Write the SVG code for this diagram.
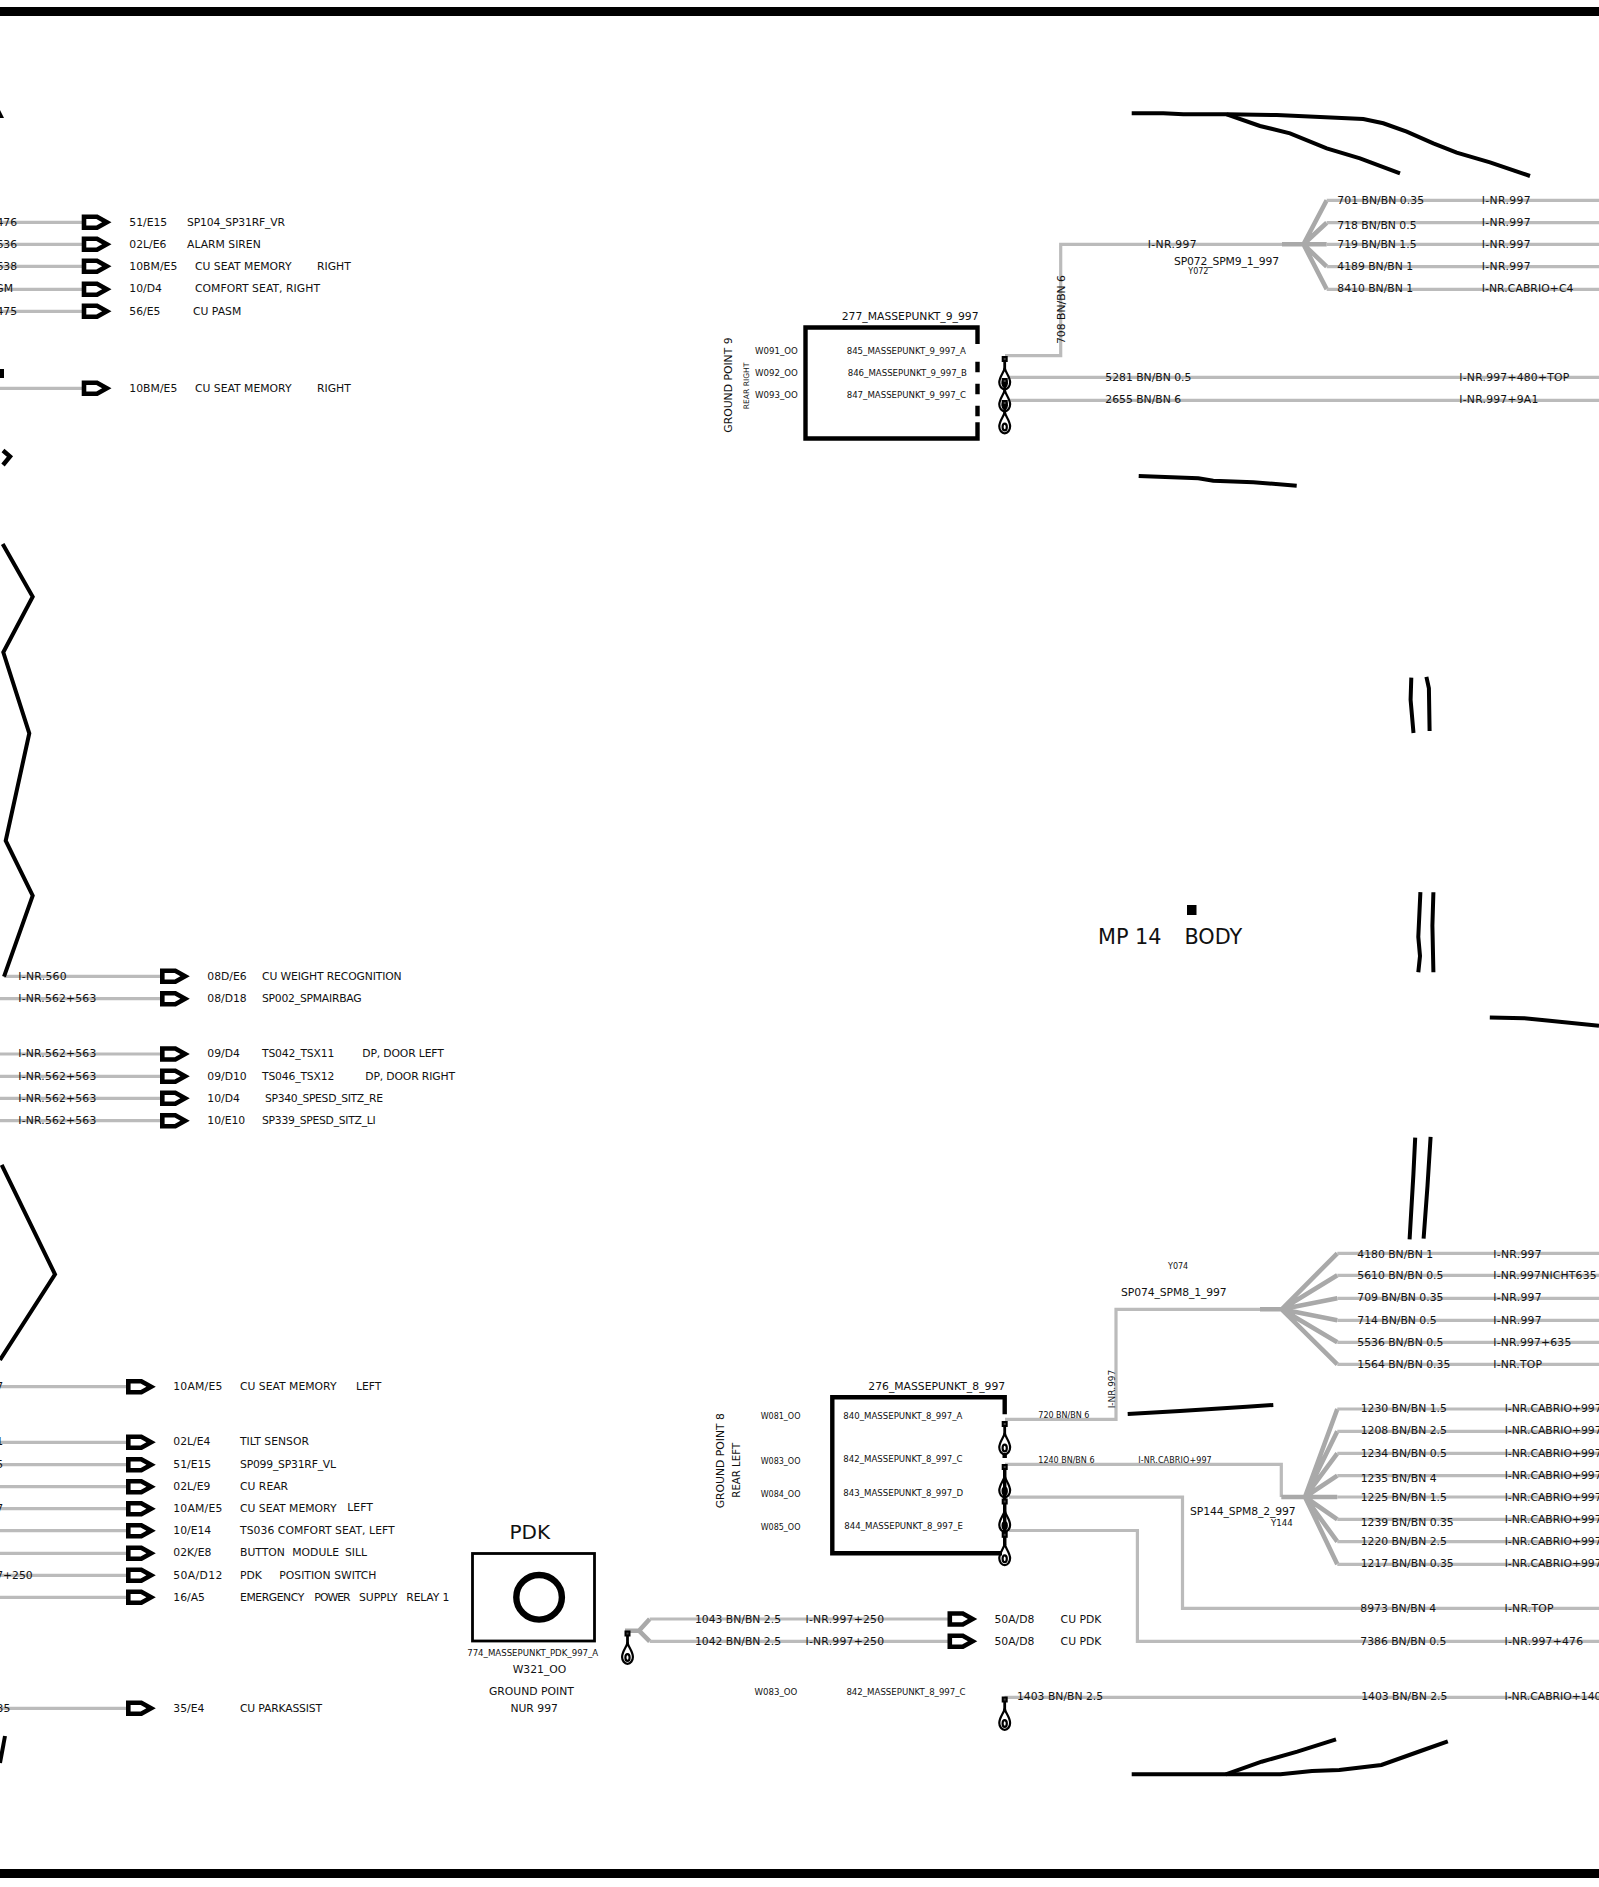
<svg xmlns="http://www.w3.org/2000/svg" width="1599" height="1887" viewBox="0 0 1599 1887">
<style>
text{font-family:"DejaVu Sans","Liberation Sans",sans-serif;fill:#111;font-size:10.8px}
.s{font-size:8.6px}
.xs{font-size:8px}
.w{fill:none;stroke:#bbb;stroke-width:3.2}
.f{fill:none;stroke:#a9a9a9;stroke-width:4.6}
.k{fill:none;stroke:#000;stroke-width:4}
.b{fill:none;stroke:#000;stroke-width:4.4}
</style>
<defs>
<path id="arrow" d="M2,-5.5H15L24.8,0L15,5.5H2Z" fill="#fff" stroke="#000" stroke-width="4.6"/>
<g id="eyelet" fill="none" stroke="#000">
<rect x="-2" y="-2" width="4" height="4" stroke-width="2" fill="#444"/>
<path d="M0,2V11" stroke-width="2.8"/>
<path d="M0,9C-1,14 -5.4,18 -5.4,23.5A5.4,6.8 0 0 0 5.4,23.5C5.4,18 1,14 0,9Z" stroke-width="2.2"/>
<ellipse cx="0" cy="24" rx="2.1" ry="3.4" stroke-width="2.2"/>
</g>
</defs>
<rect width="1599" height="1887" fill="#fff"/>
<g id="frame">
<rect x="0" y="7" width="1599" height="9" fill="#000"/>
<rect x="0" y="1869" width="1599" height="9" fill="#000"/>
</g>
<g id="connectors">
<path class="w" d="M0,222.3H84M0,244.3H84M0,266.3H84M0,289.3H84M0,311.3H84M0,388.3H84"/>
<path class="w" d="M4,976.3H162M0,998.7H162M0,1054H162M0,1076.3H162M0,1098.3H162M0,1120.7H162"/>
<path class="w" d="M0,1386.7H128M0,1442.3H128M0,1464.7H128M0,1486.7H128M0,1508.7H128M0,1530.7H128M0,1553.3H128M0,1575.3H128M0,1597.3H128M0,1708.3H128"/>
<path class="f" d="M625,1630.7H639L649.7,1619M639,1630.7L649.7,1641.3"/>
<path class="w" d="M649.7,1619H950M649.7,1641.3H950"/>
<path class="w" d="M1005,355.7H1060.7V244.3H1282"/>
<path class="f" d="M1282,244.3H1326.7M1303.5,244.3L1326.7,200.3M1303.5,244.3L1326.7,222.7M1303.5,244.3L1326.7,266.7M1303.5,244.3L1326.7,289.3"/>
<path class="w" d="M1326.7,200.3H1599M1326.7,222.7H1599M1326.7,244.3H1599M1326.7,266.7H1599M1326.7,289.3H1599"/>
<path class="w" d="M1009,377.3H1599M1009,400.3H1599"/>
<path class="w" d="M1005,1419.3H1116V1309.3H1260"/>
<path class="f" d="M1260,1309.3H1281.7M1281.7,1309.3L1337.3,1253.3M1281.7,1309.3L1337.3,1275.3M1281.7,1309.3L1337.3,1298.3M1281.7,1309.3L1337.3,1320.3M1281.7,1309.3L1337.3,1342.3M1281.7,1309.3L1337.3,1364.3"/>
<path class="w" d="M1337.3,1253.3H1599M1337.3,1275.3H1599M1337.3,1298.3H1599M1337.3,1320.3H1599M1337.3,1342.3H1599M1337.3,1364.3H1599"/>
<path class="w" d="M1005,1464.3H1281.3V1497"/>
<path class="f" d="M1281.3,1497H1337.3M1305,1497L1337.3,1409M1305,1497L1337.3,1431.3M1305,1497L1337.3,1453.3M1305,1497L1337.3,1475.7M1305,1497L1337.3,1519.3M1305,1497L1337.3,1541.7M1305,1497L1337.3,1564.3"/>
<path class="w" d="M1337.3,1409H1599M1337.3,1431.3H1599M1337.3,1453.3H1599M1337.3,1475.7H1599M1337.3,1497H1599M1337.3,1519.3H1599M1337.3,1541.7H1599M1337.3,1564.3H1599"/>
<path class="w" d="M1009,1497.2H1182.5V1608.3H1599"/>
<path class="w" d="M1009,1530.5H1137.4V1641.3H1599"/>
<path class="w" d="M1004.5,1697.4H1599"/>
</g>
<g id="body-lines">
<path class="k" d="M2.7,544L32.7,596.7L3.3,652.3L29.3,733.3L5.7,840.7L32.7,895.7L4,976.7"/>
<path class="k" d="M1.7,1165L55,1274.3L0,1360"/>
<path class="k" d="M5,1736L0,1763"/>
<path d="M0,110L4,118L0,118Z" fill="#000"/>
<rect x="0" y="369" width="4" height="9" fill="#000"/>
<path class="b" d="M3,450.5L10,456.5L3,465"/>
<path class="k" d="M1131.7,113.3L1163.3,113.3L1183.3,114.3L1226.7,114.3L1276.7,115L1363.3,119L1383.3,123.3L1406.7,131.7L1433.3,143.3L1456.7,152.7L1490,162.3L1530,176"/>
<path class="k" d="M1226.7,114.3L1260,126L1290,133.3L1326.7,148.3L1360,158.3L1400,173.3"/>
<path class="k" d="M1138.7,476L1198.3,478.3L1213.3,480.7L1253.3,482.3L1296.7,485.7"/>
<path class="k" d="M1411.3,677.6L1410.6,699.8L1413.5,733M1426.4,676.8L1428.9,688.3L1429.6,731"/>
<path class="k" d="M1420.4,892.2L1418.3,937L1420,956L1418.3,972.2M1433.4,892.2L1432.4,925.5L1433.4,972.2"/>
<path class="k" d="M1415.2,1137.6L1413.4,1174.3L1409.6,1239.4M1430.6,1136.8L1427.5,1185.8L1423.6,1238.6"/>
<path class="k" d="M1489.8,1017.4L1524.4,1018.2L1547.2,1020.5L1599,1025.8"/>
<path class="k" d="M1127.7,1414L1180,1411L1246.7,1406.7L1273.3,1405"/>
<path class="k" d="M1131.7,1774.3L1280.5,1774.3L1312,1771L1339.3,1770L1381.4,1765L1423.4,1750L1447.8,1741.3"/>
<path class="k" d="M1225.8,1774.3L1261.6,1761.7L1297.3,1751.7L1336,1739.3"/>
</g>
<g id="row-r1"><use href="#arrow" x="82" y="222.3"/><text x="17" y="226.3" text-anchor="end">476</text><text x="129.3" y="226.3">51/E15</text><text x="187" y="226.3" textLength="98">SP104_SP31RF_VR</text></g>
<g id="row-r2"><use href="#arrow" x="82" y="244.3"/><text x="17" y="248.3" text-anchor="end">636</text><text x="129.3" y="248.3">02L/E6</text><text x="187" y="248.3">ALARM SIREN</text></g>
<g id="row-r3"><use href="#arrow" x="82" y="266.3"/><text x="17" y="270.3" text-anchor="end">638</text><text x="129.3" y="270.3" textLength="48">10BM/E5</text><text x="195" y="270.3">CU SEAT MEMORY</text><text x="317" y="270.3">RIGHT</text></g>
<g id="row-r4"><use href="#arrow" x="82" y="289.3"/><text x="13" y="292.3" text-anchor="end">GM</text><text x="129.3" y="292.3">10/D4</text><text x="195" y="292.3" textLength="125">COMFORT SEAT, RIGHT</text></g>
<g id="row-r5"><use href="#arrow" x="82" y="311.3"/><text x="17" y="315.3" text-anchor="end">475</text><text x="129.3" y="315.3">56/E5</text><text x="193" y="315.3">CU PASM</text></g>
<g id="row-r6"><use href="#arrow" x="82" y="388.3"/><text x="129.3" y="392.3" textLength="48">10BM/E5</text><text x="195" y="392.3">CU SEAT MEMORY</text><text x="317" y="392.3">RIGHT</text></g>
<g id="row-m1"><use href="#arrow" x="160.3" y="976.3"/><text x="18.3" y="980" textLength="48.3">I-NR.560</text><text x="207.3" y="980">08D/E6</text><text x="262" y="980" textLength="139.7">CU WEIGHT RECOGNITION</text></g>
<g id="row-m2"><use href="#arrow" x="160.3" y="998.7"/><text x="18.3" y="1002" textLength="78">I-NR.562+563</text><text x="207.3" y="1002">08/D18</text><text x="262" y="1002" textLength="99.7">SP002_SPMAIRBAG</text></g>
<g id="row-m3"><use href="#arrow" x="160.3" y="1054"/><text x="18.3" y="1057.3" textLength="78">I-NR.562+563</text><text x="207.3" y="1057.3">09/D4</text><text x="262" y="1057.3" textLength="72.3">TS042_TSX11</text><text x="362.3" y="1057.3" textLength="81.5">DP, DOOR LEFT</text></g>
<g id="row-m4"><use href="#arrow" x="160.3" y="1076.3"/><text x="18.3" y="1080" textLength="78">I-NR.562+563</text><text x="207.3" y="1080">09/D10</text><text x="262" y="1080" textLength="72.3">TS046_TSX12</text><text x="365.3" y="1080" textLength="89.7">DP, DOOR RIGHT</text></g>
<g id="row-m5"><use href="#arrow" x="160.3" y="1098.3"/><text x="18.3" y="1102" textLength="78">I-NR.562+563</text><text x="207.3" y="1102">10/D4</text><text x="265" y="1102" textLength="118">SP340_SPESD_SITZ_RE</text></g>
<g id="row-m6"><use href="#arrow" x="160.3" y="1120.7"/><text x="18.3" y="1124" textLength="78">I-NR.562+563</text><text x="207.3" y="1124">10/E10</text><text x="262" y="1124" textLength="113.7">SP339_SPESD_SITZ_LI</text></g>
<g id="row-l1"><use href="#arrow" x="126.3" y="1386.7"/><text x="3" y="1390" text-anchor="end">7</text><text x="173.3" y="1390" textLength="49">10AM/E5</text><text x="240" y="1390">CU SEAT MEMORY</text><text x="356" y="1390">LEFT</text></g>
<g id="row-l2"><use href="#arrow" x="126.3" y="1442.3"/><text x="3" y="1445.3" text-anchor="end">1</text><text x="173.3" y="1445.3">02L/E4</text><text x="240" y="1445.3">TILT SENSOR</text></g>
<g id="row-l3"><use href="#arrow" x="126.3" y="1464.7"/><text x="3" y="1468" text-anchor="end">5</text><text x="173.3" y="1468">51/E15</text><text x="240" y="1468" textLength="96">SP099_SP31RF_VL</text></g>
<g id="row-l4"><use href="#arrow" x="126.3" y="1486.7"/><text x="173.3" y="1490">02L/E9</text><text x="240" y="1490">CU REAR</text></g>
<g id="row-l5"><use href="#arrow" x="126.3" y="1508.7"/><text x="3" y="1512" text-anchor="end">7</text><text x="173.3" y="1512" textLength="49">10AM/E5</text><text x="240" y="1512">CU SEAT MEMORY</text><text x="347.3" y="1511">LEFT</text></g>
<g id="row-l6"><use href="#arrow" x="126.3" y="1530.7"/><text x="173.3" y="1534">10/E14</text><text x="240" y="1534" textLength="154.7">TS036 COMFORT SEAT, LEFT</text></g>
<g id="row-l7"><use href="#arrow" x="126.3" y="1553.3"/><text x="173.3" y="1556">02K/E8</text><text x="240" y="1556">BUTTON</text><text x="292.3" y="1556">MODULE</text><text x="345" y="1556">SILL</text></g>
<g id="row-l8"><use href="#arrow" x="126.3" y="1575.3"/><text x="32.7" y="1579" text-anchor="end">7+250</text><text x="173.3" y="1579" textLength="49">50A/D12</text><text x="240" y="1579">PDK</text><text x="279.3" y="1579">POSITION SWITCH</text></g>
<g id="row-l9"><use href="#arrow" x="126.3" y="1597.3"/><text x="173.3" y="1601">16/A5</text><text x="240" y="1601" textLength="64.3">EMERGENCY</text><text x="314.3" y="1601" textLength="36.3">POWER</text><text x="359" y="1601" textLength="38.7">SUPPLY</text><text x="406.3" y="1601" textLength="43">RELAY 1</text></g>
<g id="row-l10"><use href="#arrow" x="126.3" y="1708.3"/><text x="10.3" y="1712" text-anchor="end">35</text><text x="173.3" y="1712">35/E4</text><text x="240" y="1712" textLength="82">CU PARKASSIST</text></g>
<g id="node-pdk">
<text x="509.5" y="1539" style="font-size:20px">PDK</text>
<rect x="472.5" y="1553.5" width="122" height="87.5" fill="none" stroke="#000" stroke-width="2.8"/>
<ellipse cx="539.1" cy="1597.3" rx="22.8" ry="22.3" fill="none" stroke="#000" stroke-width="6.4"/>
<text x="467.2" y="1655.7" class="s">774_MASSEPUNKT_PDK_997_A</text>
<text x="512.7" y="1673">W321_OO</text>
<text x="489" y="1695">GROUND POINT</text>
<text x="510.4" y="1712">NUR 997</text>
</g>
<g id="eyelet-pdk"><use href="#eyelet" x="627.5" y="1633.5"/></g>
<g id="row-p1"><use href="#arrow" x="947.8" y="1619"/><text x="694.9" y="1623">1043 BN/BN 2.5</text><text x="805.5" y="1623" textLength="78.5">I-NR.997+250</text><text x="994.5" y="1623">50A/D8</text><text x="1060.6" y="1623">CU PDK</text></g>
<g id="row-p2"><use href="#arrow" x="947.8" y="1641.3"/><text x="694.9" y="1645">1042 BN/BN 2.5</text><text x="805.5" y="1645" textLength="78.5">I-NR.997+250</text><text x="994.5" y="1645">50A/D8</text><text x="1060.6" y="1645">CU PDK</text></g>
<g id="node-gp9">
<path class="b" d="M977.5,344V327.5H805.5V438.5H977.5V422.3M977.5,361.7V372.3M977.5,383.7V394.3M977.5,405.7V416.3"/>
<text x="841.7" y="320">277_MASSEPUNKT_9_997</text>
<text x="755" y="354" class="s">W091_OO</text>
<text x="755" y="376" class="s">W092_OO</text>
<text x="755" y="398" class="s">W093_OO</text>
<text x="846.7" y="354" class="s">845_MASSEPUNKT_9_997_A</text>
<text x="847.7" y="376" class="s">846_MASSEPUNKT_9_997_B</text>
<text x="846.7" y="398" class="s">847_MASSEPUNKT_9_997_C</text>
<text transform="translate(731.7 432.7) rotate(-90)">GROUND POINT 9</text>
<text transform="translate(748.7 409.3) rotate(-90)" style="font-size:7.6px">REAR RIGHT</text>
<use href="#eyelet" x="1004.7" y="359"/><use href="#eyelet" x="1004.7" y="381"/><use href="#eyelet" x="1004.7" y="403"/>
</g>
<g id="labels-sp072">
<text transform="translate(1064.7 344) rotate(-90)">708 BN/BN 6</text>
<text x="1147.7" y="248" textLength="49">I-NR.997</text>
<text x="1174" y="265" textLength="105">SP072_SPM9_1_997</text>
<text x="1188.3" y="273.5" class="xs">Y072</text>
<text x="1337.3" y="204" textLength="86.7">701 BN/BN 0.35</text><text x="1337.3" y="229">718 BN/BN 0.5</text><text x="1337.3" y="248">719 BN/BN 1.5</text><text x="1337.3" y="270">4189 BN/BN 1</text><text x="1337.3" y="292">8410 BN/BN 1</text>
<text x="1481.7" y="204" textLength="49">I-NR.997</text><text x="1481.7" y="226" textLength="49">I-NR.997</text><text x="1481.7" y="248" textLength="49">I-NR.997</text><text x="1481.7" y="270" textLength="49">I-NR.997</text><text x="1481.7" y="292" textLength="91.7">I-NR.CABRIO+C4</text>
<text x="1105.3" y="381">5281 BN/BN 0.5</text><text x="1105.3" y="403">2655 BN/BN 6</text>
<text x="1459.3" y="381" textLength="110">I-NR.997+480+TOP</text><text x="1459.3" y="403" textLength="79">I-NR.997+9A1</text>
</g>
<g id="node-mp14">
<rect x="1187" y="905" width="9.5" height="10" fill="#000"/>
<text x="1098" y="944" style="font-size:20.8px">MP 14</text>
<text x="1184.4" y="944" style="font-size:20.8px">BODY</text>
</g>
<g id="node-gp8">
<path class="b" d="M1004.7,1414.3V1397.3H832.3V1553.3H1002"/>
<path class="b" d="M1004.7,1453V1458"/>
<path d="M1004.7,1467V1545" fill="none" stroke="#000" stroke-width="3.4"/>
<text x="868.3" y="1390">276_MASSEPUNKT_8_997</text>
<text x="760.7" y="1418.5" class="xs">W081_OO</text><text x="760.7" y="1463.5" class="xs">W083_OO</text><text x="760.7" y="1496.5" class="xs">W084_OO</text><text x="760.7" y="1529.5" class="xs">W085_OO</text>
<text x="843.3" y="1418.5" class="s">840_MASSEPUNKT_8_997_A</text><text x="843.3" y="1462" class="s">842_MASSEPUNKT_8_997_C</text><text x="843.3" y="1496" class="s">843_MASSEPUNKT_8_997_D</text><text x="844.3" y="1529" class="s">844_MASSEPUNKT_8_997_E</text>
<text transform="translate(724 1508.3) rotate(-90)">GROUND POINT 8</text>
<text transform="translate(740.3 1497.7) rotate(-90)" style="font-size:10.2px">REAR LEFT</text>
<use href="#eyelet" x="1004.7" y="1424"/><use href="#eyelet" x="1004.7" y="1467"/><use href="#eyelet" x="1004.7" y="1501.5"/><use href="#eyelet" x="1004.7" y="1534.8"/>
</g>
<g id="labels-sp074">
<text x="1168" y="1268.5" class="xs">Y074</text>
<text x="1121" y="1296" textLength="105.7">SP074_SPM8_1_997</text>
<text x="1038.3" y="1418" class="xs">720 BN/BN 6</text>
<text x="1038.3" y="1463" class="xs">1240 BN/BN 6</text>
<text x="1138.3" y="1463" class="xs" textLength="73.4">I-NR.CABRIO+997</text>
<text transform="translate(1114.7 1408.3) rotate(-90)" style="font-size:9px">I-NR.997</text>
<text x="1357.3" y="1258">4180 BN/BN 1</text><text x="1357.3" y="1279">5610 BN/BN 0.5</text><text x="1357.3" y="1301">709 BN/BN 0.35</text><text x="1357.3" y="1324">714 BN/BN 0.5</text><text x="1357.3" y="1345.7">5536 BN/BN 0.5</text><text x="1357.3" y="1368">1564 BN/BN 0.35</text>
<text x="1493.3" y="1258" textLength="48.3">I-NR.997</text><text x="1493.3" y="1279" textLength="103.3">I-NR.997NICHT635</text><text x="1493.3" y="1301" textLength="48.3">I-NR.997</text><text x="1493.3" y="1324" textLength="48.3">I-NR.997</text><text x="1493.3" y="1346" textLength="78">I-NR.997+635</text><text x="1493.3" y="1368" textLength="48.7">I-NR.TOP</text>
</g>
<g id="labels-sp144">
<text x="1190" y="1515" textLength="105.7">SP144_SPM8_2_997</text>
<text x="1271" y="1525.7" class="s">Y144</text>
<text x="1360.7" y="1412">1230 BN/BN 1.5</text><text x="1360.7" y="1434">1208 BN/BN 2.5</text><text x="1360.7" y="1457">1234 BN/BN 0.5</text><text x="1360.7" y="1482">1235 BN/BN 4</text><text x="1360.7" y="1501">1225 BN/BN 1.5</text><text x="1360.7" y="1526">1239 BN/BN 0.35</text><text x="1360.7" y="1545">1220 BN/BN 2.5</text><text x="1360.7" y="1567">1217 BN/BN 0.35</text>
<text x="1504.7" y="1412">I-NR.CABRIO+997</text><text x="1504.7" y="1434">I-NR.CABRIO+997</text><text x="1504.7" y="1457">I-NR.CABRIO+997</text><text x="1504.7" y="1479">I-NR.CABRIO+997</text><text x="1504.7" y="1501">I-NR.CABRIO+997</text><text x="1504.7" y="1523">I-NR.CABRIO+997</text><text x="1504.7" y="1545">I-NR.CABRIO+997</text><text x="1504.7" y="1567">I-NR.CABRIO+997</text>
<text x="1360.3" y="1612">8973 BN/BN 4</text><text x="1504.5" y="1612" textLength="49">I-NR.TOP</text>
<text x="1360.3" y="1645">7386 BN/BN 0.5</text><text x="1504.5" y="1645" textLength="78.6">I-NR.997+476</text>
</g>
<g id="node-1403">
<text x="754.6" y="1695" class="s">W083_OO</text>
<text x="846.4" y="1695" class="s">842_MASSEPUNKT_8_997_C</text>
<use href="#eyelet" x="1004.7" y="1699.5"/>
<text x="1017" y="1700">1403 BN/BN 2.5</text><text x="1361.2" y="1700">1403 BN/BN 2.5</text><text x="1504.5" y="1700">I-NR.CABRIO+140</text>
</g>
</svg>
